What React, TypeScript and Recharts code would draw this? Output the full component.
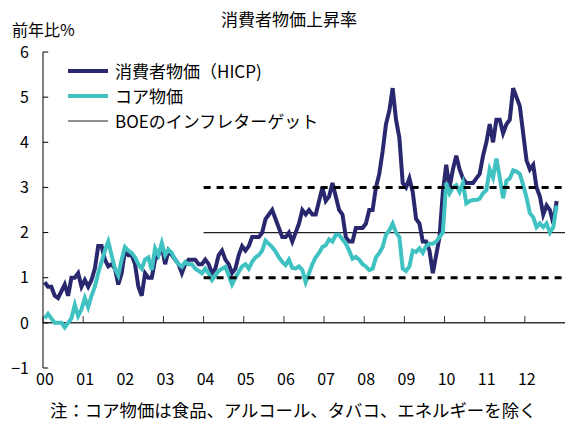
import { LineChart, Line, XAxis, YAxis, ReferenceLine } from "recharts";

const NAVY = "#29286f";
const TEAL = "#40c2c2";
const FONT = "'Noto Sans CJK JP', 'Noto Sans', sans-serif";

const startYear = 2000;
const yearTicks = [2000, 2001, 2002, 2003, 2004, 2005, 2006, 2007, 2008, 2009, 2010, 2011, 2012];
const yTicks = [-1, 0, 1, 2, 3, 4, 5, 6];

// 前年比%, monthly from 2000-01 to 2012-10
const hicp = [
  0.9, 0.8, 0.8, 0.6, 0.55, 0.7, 0.85, 0.6, 1.0, 1.0, 1.1, 0.8,
  0.95, 0.8, 0.95, 1.2, 1.7, 1.7, 1.4, 1.25, 1.3, 1.2, 0.85, 1.1,
  1.6, 1.5, 1.5, 1.3, 0.8, 0.6, 1.1, 1.0, 1.0, 1.4, 1.5, 1.7,
  1.3, 1.6, 1.5, 1.4, 1.3, 1.1, 1.3, 1.4, 1.4, 1.4, 1.3, 1.3,
  1.4, 1.3, 1.1, 1.2, 1.5, 1.6, 1.4, 1.3, 1.1, 1.2, 1.5, 1.7,
  1.6, 1.7, 1.9, 1.9, 1.9, 2.0, 2.3, 2.4, 2.5, 2.3, 2.1, 1.9,
  1.9, 2.0, 1.8, 2.0, 2.2, 2.5, 2.4, 2.5, 2.4, 2.4, 2.7, 3.0,
  2.7, 2.8, 3.1, 2.8, 2.5, 2.4, 1.9, 1.8, 1.8, 2.1, 2.1, 2.1,
  2.2, 2.5, 2.5, 3.0, 3.3, 3.8, 4.4, 4.7, 5.2, 4.5, 4.1, 3.1,
  3.0, 3.2, 2.9, 2.3, 2.2, 1.8, 1.8, 1.6, 1.1, 1.5, 1.9, 2.9,
  3.5, 3.0, 3.4, 3.7, 3.4, 3.2, 3.1, 3.1, 3.1, 3.2, 3.3, 3.7,
  4.0, 4.4, 4.0, 4.5, 4.5, 4.2, 4.4, 4.5, 5.2, 5.0, 4.8, 4.2,
  3.6, 3.4, 3.5, 3.0, 2.8, 2.4, 2.6, 2.5, 2.2, 2.7,
];

const core = [
  0.1, 0.2, 0.1, 0.0, 0.0, 0.0, -0.1, 0.0, 0.1, 0.4, 0.15, 0.3,
  0.55, 0.35, 0.6, 0.8, 1.1, 1.35, 1.6, 1.8, 1.5, 1.2, 1.05, 1.4,
  1.68, 1.6, 1.55, 1.45, 1.3, 1.2, 1.4, 1.45, 1.17, 1.65, 1.5, 1.77,
  1.5, 1.62, 1.55, 1.4, 1.3, 1.24, 1.35, 1.3, 1.3, 1.2, 1.15, 1.1,
  1.2, 1.1, 0.95, 1.05, 1.15, 1.2, 1.24, 1.05, 0.85, 1.0, 1.13, 1.25,
  1.3, 1.2, 1.35, 1.45, 1.5, 1.6, 1.82, 1.75, 1.68, 1.58, 1.45, 1.35,
  1.28, 1.4, 1.22, 1.2, 1.25, 1.17, 0.9, 1.1, 1.3, 1.45, 1.55, 1.68,
  1.72, 1.85, 1.8, 1.95, 1.95, 1.85, 1.75, 1.6, 1.42, 1.46, 1.4, 1.3,
  1.25, 1.17, 1.2, 1.45, 1.55, 1.68, 1.95, 2.05, 2.2, 2.0, 1.9, 1.2,
  1.15, 1.25, 1.6, 1.57, 1.65, 1.55, 1.7, 1.75, 1.75, 1.8, 1.9, 2.0,
  3.1, 2.87, 3.0, 3.05, 2.9, 3.1, 2.65, 2.7, 2.72, 2.72, 2.75, 2.87,
  2.94, 3.4, 3.22, 3.64, 3.22, 2.76, 3.15, 3.2, 3.38, 3.35, 3.3, 3.05,
  2.78, 2.43, 2.34, 2.12, 2.2, 2.12, 2.2, 2.0, 2.12, 2.6,
];

// BOE target 2% (±1%) shown from 2004
const targetFrom = 2004;
const targetTo = 2013;
const targetRate = 2;
const bandLow = 1;
const bandHigh = 3;

const legendItems = [
  { label: "消費者物価（HICP)", color: NAVY, width: 4 },
  { label: "コア物価", color: TEAL, width: 4 },
  { label: "BOEのインフレターゲット", color: "#222", width: 1 },
];

const data = hicp.map((v, i) => ({
  t: startYear + (i + 0.5) / 12,
  hicp: v,
  core: core[i],
}));

function LegendBox() {
  return (
    <div style={{ position: "absolute", left: 68, top: 58, fontSize: 17, color: "#000" }}>
      {legendItems.map((it) => (
        <div key={it.label} style={{ display: "flex", alignItems: "center", height: 25 }}>
          <svg width={40} height={10} style={{ marginRight: 7 }}>
            <line x1={0} y1={5} x2={40} y2={5} stroke={it.color} strokeWidth={it.width} />
          </svg>
          <span style={{ lineHeight: "20px", whiteSpace: "nowrap" }}>{it.label}</span>
        </div>
      ))}
    </div>
  );
}

export default function App() {
  return (
    <div style={{ position: "absolute", left: 0, top: 0, width: 566, height: 421, background: "#fff", fontFamily: FONT }}>
      <div style={{ position: "absolute", top: 9, left: 0, width: 578, textAlign: "center", fontSize: 17, lineHeight: "20px" }}>
        消費者物価上昇率
      </div>
      <div style={{ position: "absolute", top: 19, left: 12, fontSize: 16, lineHeight: "20px" }}>前年比%</div>
      <LineChart width={566} height={421} data={data} margin={{ top: 52, right: 1, bottom: 0, left: 0 }}>
        <XAxis
          type="number"
          dataKey="t"
          domain={[2000, 2013]}
          ticks={yearTicks}
          tickFormatter={(y: number) => String(y % 100).padStart(2, "0")}
          axisLine={false}
          tickLine={false}
          tickSize={0}
          tickMargin={6}
          height={53}
          dx={2}
          tick={{ fill: "#000", fontSize: 16, fontFamily: FONT }}
          interval={0}
        />
        <YAxis
          domain={[-1, 6]}
          ticks={yTicks}
          tickFormatter={(v: number) => (v < 0 ? "\u2212" + Math.abs(v) : String(v))}
          axisLine={{ stroke: "#000", strokeWidth: 1 }}
          tickLine={false}
          tickSize={0}
          tickMargin={14}
          width={43}
          tick={{ fill: "#000", fontSize: 16, fontFamily: FONT }}
          interval={0}
        />
        <ReferenceLine y={0} stroke="#333" strokeWidth={1.5} />
        {yTicks.map((v) => (
          <ReferenceLine key={"yt" + v} segment={[{ x: 2000, y: v }, { x: 2000.13, y: v }]} stroke="#000" />
        ))}
        {yearTicks.map((yr) => (
          <ReferenceLine key={"xt" + yr} segment={[{ x: yr, y: 0 }, { x: yr, y: 0.15 }]} stroke="#333" />
        ))}
        <ReferenceLine
          segment={[{ x: targetFrom, y: targetRate }, { x: targetTo, y: targetRate }]}
          stroke="#222"
          strokeWidth={1.2}
        />
        <Line type="linear" dataKey="hicp" stroke={NAVY} strokeWidth={4} dot={false} isAnimationActive={false} />
        <Line type="linear" dataKey="core" stroke={TEAL} strokeWidth={4} dot={false} isAnimationActive={false} />
        <ReferenceLine
          segment={[{ x: targetFrom, y: bandHigh }, { x: targetTo, y: bandHigh }]}
          stroke="#000"
          strokeWidth={3}
          strokeDasharray="7 6"
        />
        <ReferenceLine
          segment={[{ x: targetFrom, y: bandLow }, { x: targetTo, y: bandLow }]}
          stroke="#000"
          strokeWidth={3}
          strokeDasharray="7 6"
        />
      </LineChart>
      <LegendBox />
      <div style={{ position: "absolute", top: 400, left: 50, fontSize: 17.4, lineHeight: "20px", whiteSpace: "nowrap" }}>
        注：コア物価は食品、アルコール、タバコ、エネルギーを除く
      </div>
    </div>
  );
}
